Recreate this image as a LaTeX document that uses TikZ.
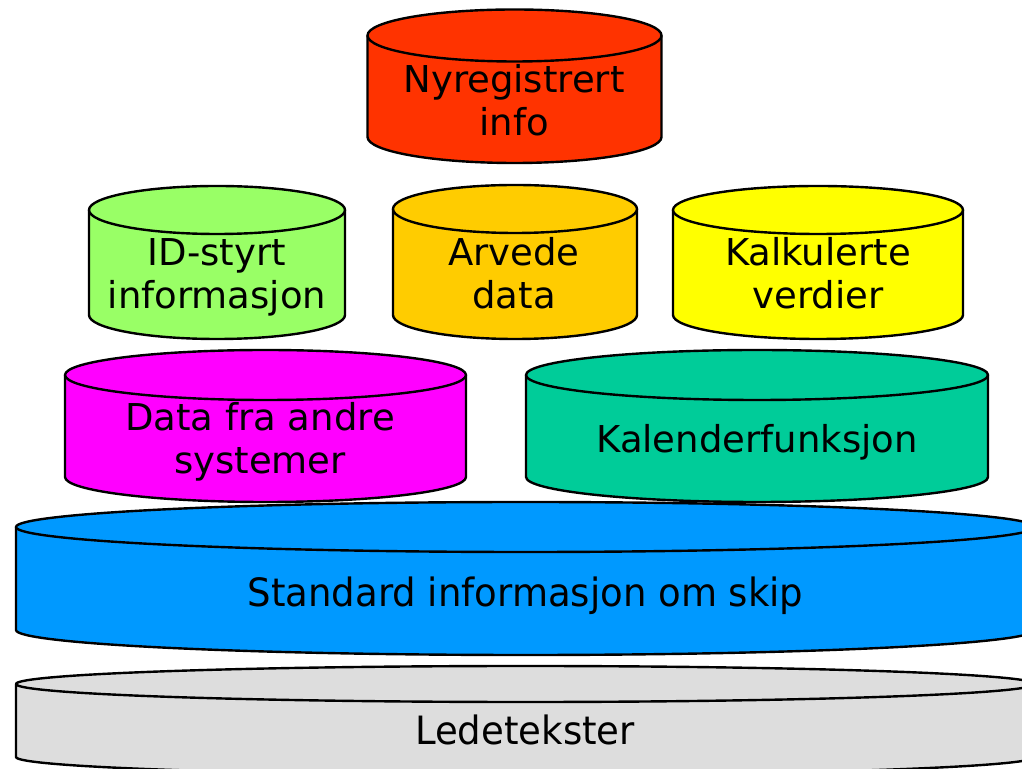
\documentclass[tikz,border=0pt]{standalone}
\usepackage{fontspec}
\setmainfont{DejaVu Sans}
\usepackage{xcolor}
\usepackage{tikz}

\definecolor{nyrod}{HTML}{FF3300}
\definecolor{idgronn}{HTML}{99FF66}
\definecolor{arvgul}{HTML}{FFCC00}
\definecolor{kalkgul}{HTML}{FFFF00}
\definecolor{andrelilla}{HTML}{FF00FF}
\definecolor{kalgronn}{HTML}{00CC99}
\definecolor{skipbla}{HTML}{0099FF}
\definecolor{ledegra}{HTML}{DDDDDD}

% tonne: colour, centre x, x radius, top y, bottom y, y radius
\newcommand{\tonne}[6]{%
    \path[tonneside, fill=#1] (#2-#3,#4) -- (#2-#3,#5)
        arc[start angle=180, end angle=360, x radius=#3, y radius=#6] -- (#2+#3,#4);
    \path[tonneside, fill=#1] (#2,#4) ellipse[x radius=#3, y radius=#6];
}

\begin{document}
\begin{tikzpicture}[
    x=1pt, y=1pt,
    tonneside/.style={draw=black, line width=2.4pt, line join=round},
    tekst/.style={font=\fontsize{37}{43}\selectfont, align=center, inner sep=0pt},
    grunntekst/.style={font=\fontsize{39}{43}\selectfont, xscale=0.95, inner sep=0pt}
]
    \useasboundingbox (0,0) rectangle (1022,768);
    \clip (0,0) rectangle (1022,768);

    % Bottom layers
    \tonne{ledegra}{525.5}{509.5}{84}{11}{18}
    \tonne{skipbla}{525.5}{509.5}{241}{138}{25}

    % Second layer
    \tonne{andrelilla}{265.5}{200.5}{393}{291}{25}
    \tonne{kalgronn}{757}{231}{393}{291}{25}

    % Third layer
    \tonne{idgronn}{217}{128}{558}{453}{24}
    \tonne{arvgul}{515}{122}{559}{453}{24}
    \tonne{kalkgul}{818}{145}{558}{453}{24}

    % Top
    \tonne{nyrod}{514.5}{147}{732.5}{631}{26}

    % Labels
    \node[tekst] (nyreg) at (514,667.5) {Nyregistrert\\info};
    \node[tekst] (idstyrt) at (217,490.3) {ID-styrt\\informasjon};
    \node[tekst] (arvede) at (514,494.7) {Arvede\\data};
    \node[tekst] (kalkulert) at (818,494.7) {Kalkulerte\\verdier};
    \node[tekst] (andre) at (260,326.5) {Data fra andre\\systemer};
    \node[tekst] (kalender) at (757,326) {Kalenderfunksjon};
    \node[grunntekst] (standard) at (525.5,172) {Standard informasjon om skip};
    \node[grunntekst] (lede) at (525,38) {Ledetekster};
\end{tikzpicture}
\end{document}
